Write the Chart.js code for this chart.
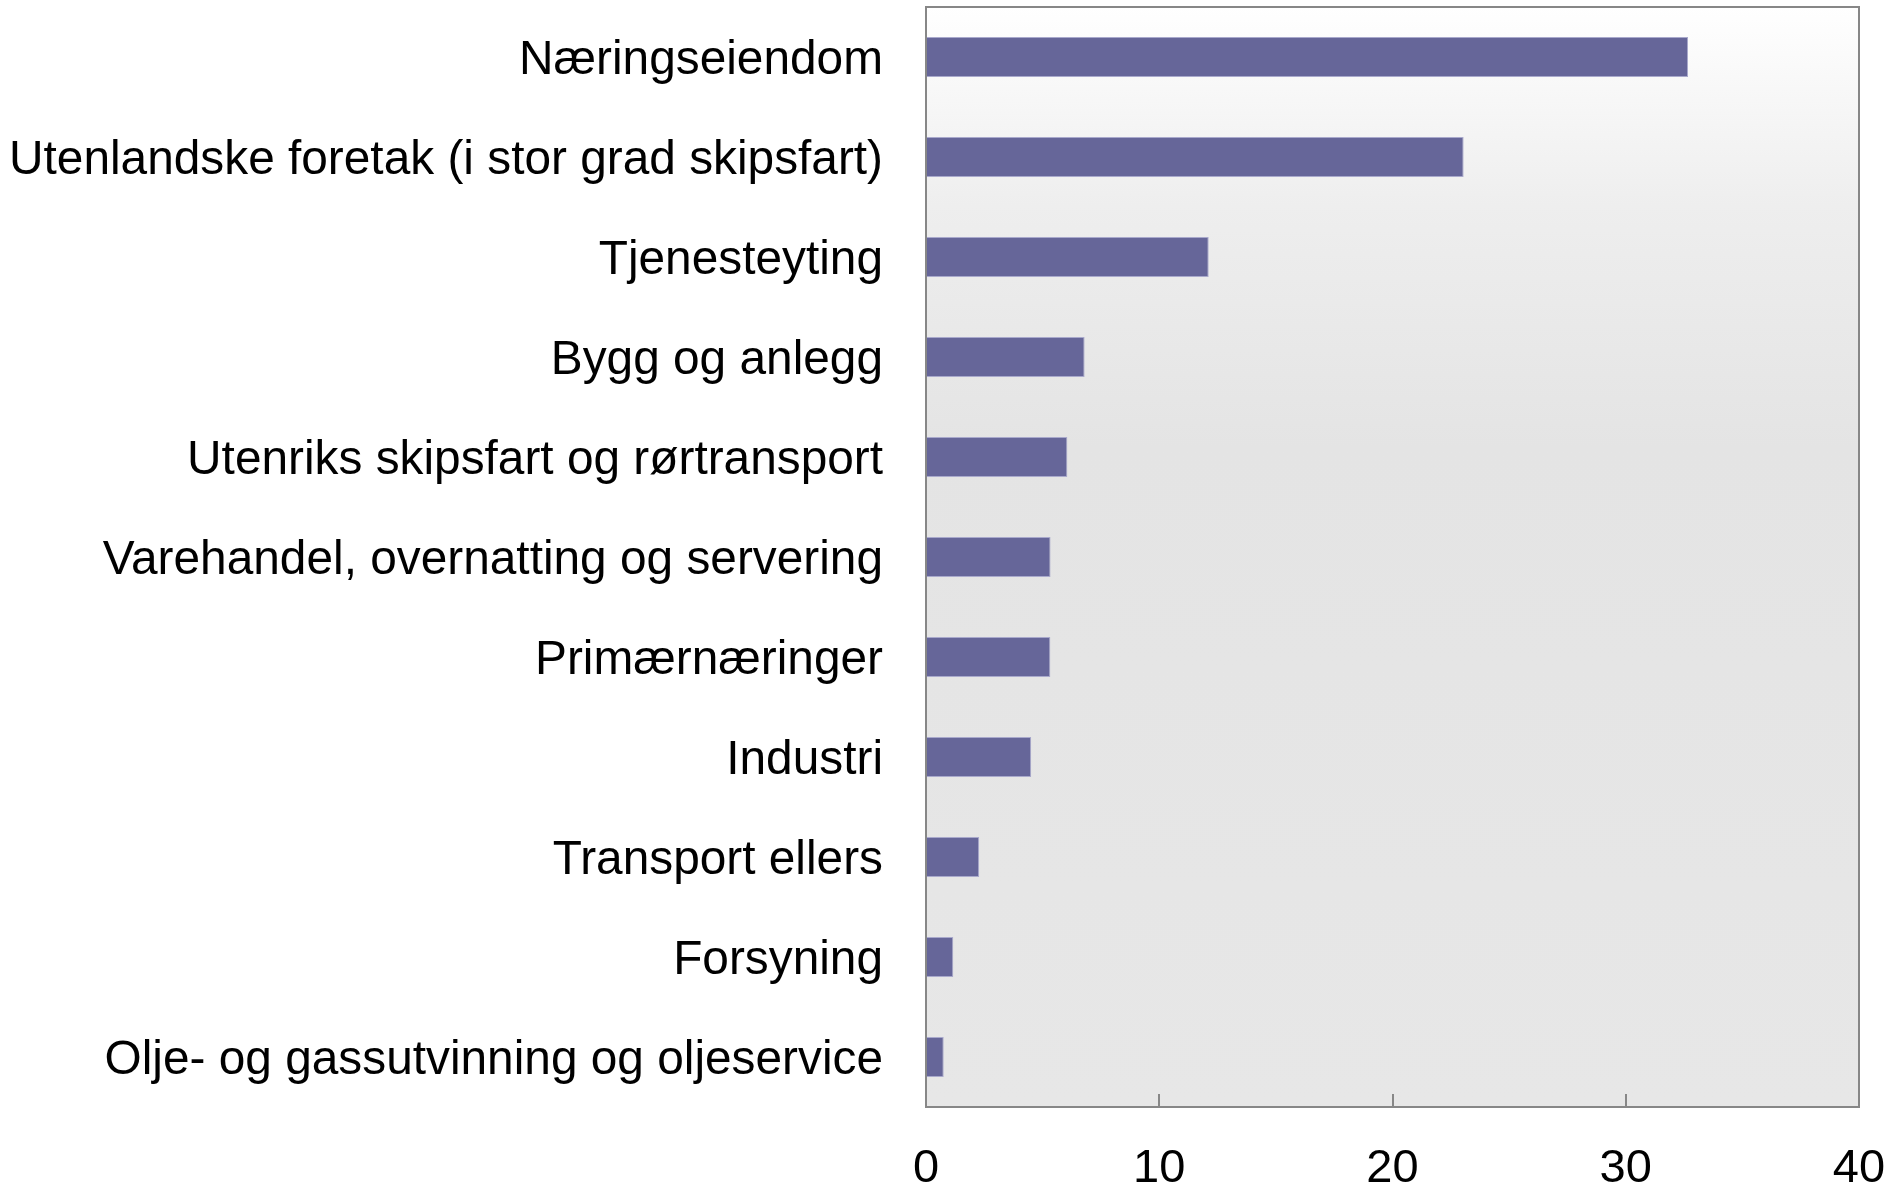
<!DOCTYPE html>
<html>
<head>
<meta charset="utf-8">
<script src="https://cdn.jsdelivr.net/npm/chart.js@4.4.1/dist/chart.umd.min.js"></script>
<style>
  html, body { margin: 0; padding: 0; background: #fff; }
  #wrap { width: 1893px; height: 1186px; }
</style>
</head>
<body>
<div id="wrap"><canvas id="lendingChart" width="1893" height="1186"></canvas></div>
<script>
// Sectors, top to bottom
const sectors = [
    'Næringseiendom',
    'Utenlandske foretak (i stor grad skipsfart)',
    'Tjenesteyting',
    'Bygg og anlegg',
    'Utenriks skipsfart og rørtransport',
    'Varehandel, overnatting og servering',
    'Primærnæringer',
    'Industri',
    'Transport ellers',
    'Forsyning',
    'Olje- og gassutvinning og oljeservice'
];
const shares = [32.67, 23.05, 12.12, 6.80, 6.06, 5.34, 5.33, 4.51, 2.28, 1.17, 0.76];
const xTicks = [0, 10, 20, 30, 40];

const FAMILY = '"Liberation Sans", Arial, Helvetica, sans-serif';
const FRAME = '#878787';

// keep tick labels from pushing the plot area inward
function noOverflow(scale) {
    scale.paddingTop = 0;
    scale.paddingBottom = 0;
    scale.paddingLeft = 0;
    scale.paddingRight = 0;
}

// Plot background: white at the top fading into light grey
const plotBackground = {
    id: 'plotBackground',
    beforeDatasetsDraw(chart) {
        const { ctx, chartArea: a } = chart;
        const g = ctx.createLinearGradient(0, a.top, 0, a.bottom);
        g.addColorStop(0, '#ffffff');
        g.addColorStop(0.18, '#eeeeee');
        g.addColorStop(0.4, '#e4e4e4');
        g.addColorStop(1, '#e7e7e7');
        ctx.save();
        ctx.fillStyle = g;
        ctx.fillRect(a.left, a.top, a.right - a.left, a.bottom - a.top);
        ctx.restore();
    }
};

// Frame around the plot and inward tick marks on the value axis
const plotFrame = {
    id: 'plotFrame',
    afterDatasetsDraw(chart) {
        const { ctx, chartArea: a } = chart;
        const x = chart.scales.x;
        ctx.save();
        ctx.strokeStyle = FRAME;
        ctx.lineWidth = 2;
        ctx.strokeRect(a.left, a.top, a.right - a.left, a.bottom - a.top);
        ctx.beginPath();
        xTicks.slice(1, -1).forEach(v => {
            const px = Math.round(x.getPixelForValue(v));
            ctx.moveTo(px, a.bottom);
            ctx.lineTo(px, a.bottom - 13);
        });
        ctx.stroke();
        ctx.restore();
    }
};

new Chart(document.getElementById('lendingChart').getContext('2d'), {
    type: 'bar',
    data: {
        labels: sectors,
        datasets: [{
            data: shares,
            backgroundColor: '#666699',
            borderColor: '#a9a9cc',
            borderWidth: 1,
            borderSkipped: false,
            barPercentage: 0.5,
            categoryPercentage: 0.8
        }]
    },
    options: {
        indexAxis: 'y',
        responsive: false,
        animation: false,
        layout: { padding: { top: 7, right: 34, left: 0, bottom: 0 } },
        scales: {
            x: {
                min: 0,
                max: 40,
                afterBuildTicks: scale => { scale.ticks = xTicks.map(v => ({ value: v })); },
                afterFit: scale => { noOverflow(scale); scale.height = 1186 - 1107; },
                ticks: { font: { family: FAMILY, size: 47 }, color: '#000', padding: 34, maxRotation: 0 },
                grid: { display: false, drawTicks: false },
                border: { display: false }
            },
            y: {
                afterFit: scale => { noOverflow(scale); scale.width = 926; },
                ticks: { font: { family: FAMILY, size: 47.8 }, color: '#000', padding: 43, labelOffset: 4, autoSkip: false },
                grid: { display: false, drawTicks: false },
                border: { display: false }
            }
        },
        plugins: {
            legend: { display: false },
            tooltip: { enabled: false }
        }
    },
    plugins: [plotBackground, plotFrame]
});
</script>
</body>
</html>
